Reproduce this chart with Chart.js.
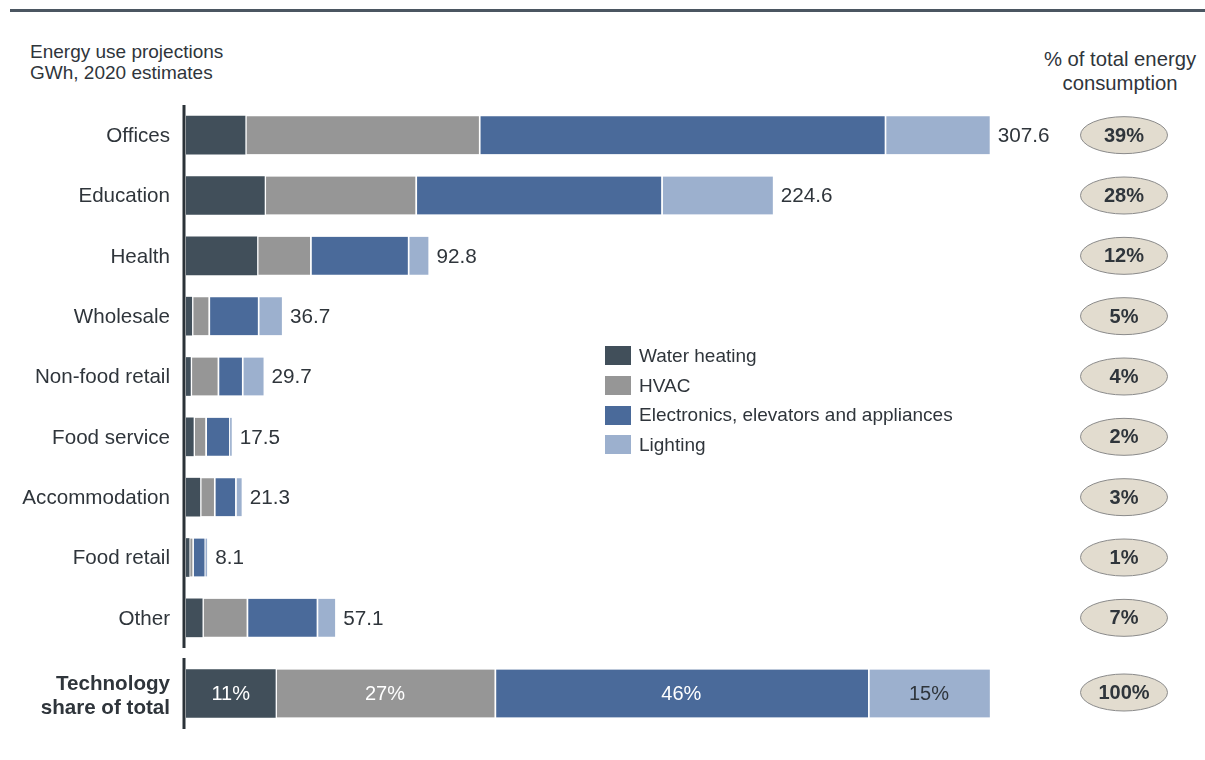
<!DOCTYPE html>
<html>
<head>
<meta charset="utf-8">
<title>Energy use projections</title>
<script src="https://cdn.jsdelivr.net/npm/chart.js@4.4.1/dist/chart.umd.min.js"></script>
<style>
  body { margin: 0; background: #fff; font-family: "Liberation Sans", Arial, sans-serif; color: #2f353b; }
  #page { position: relative; width: 1205px; height: 760px; overflow: hidden; }
  .rule { position: absolute; left: 10px; top: 9px; width: 1195px; height: 3px; background: #4b5661; }
  .title { position: absolute; left: 30px; top: 41px; font-size: 19px; line-height: 21px; }
  .right-head { position: absolute; left: 1020px; top: 47px; width: 200px; text-align: center; font-size: 20.3px; line-height: 24px; }
  #legend { position: absolute; left: 605px; top: 341px; }
  .leg-row { display: flex; align-items: center; height: 29.7px; font-size: 19px; }
  .leg-box { width: 26px; height: 19px; margin-right: 8px; }
  canvas { position: absolute; left: 0; }
</style>
</head>
<body>
<div id="page">
  <div class="rule"></div>
  <div class="title">Energy use projections<br>GWh, 2020 estimates</div>
  <div class="right-head">% of total energy<br>consumption</div>
  <canvas id="sectorChart" width="1205" height="543" style="top:105px"></canvas>
  <canvas id="shareChart" width="1205" height="71" style="top:658px"></canvas>
  <div id="legend"></div>
</div>

<script>
// Building sectors, GWh by end use
const sectors = ['Offices', 'Education', 'Health', 'Wholesale', 'Non-food retail',
  'Food service', 'Accommodation', 'Food retail', 'Other'];
const waterHeating = [22.6, 30.0, 27.1, 2.2, 1.7, 2.8, 5.3, 1.2, 6.2];
const hvac         = [89.5, 57.8, 20.4, 6.4, 10.4, 4.6, 5.4, 1.2, 17.0];
const electronics  = [155.3, 94.1, 37.4, 18.9, 9.3, 9.1, 8.1, 4.7, 26.8];
const lighting     = [40.2, 42.7, 7.9, 9.2, 8.3, 1.0, 2.5, 1.0, 7.1];

// Share of total energy consumption per sector (%)
const sharePct = [39, 28, 12, 5, 4, 2, 3, 1, 7];
const shareTotal = 100;

// Technology share of total (%)
const techLabel = ['Technology', 'share of total'];
const techShare = [11, 27, 46, 15];

const seriesNames = ['Water heating', 'HVAC', 'Electronics, elevators and appliances', 'Lighting'];
const colors = ['#414f5a', '#969696', '#4a6a9a', '#9cb0ce'];
const textColor = '#2f353b';
const axisColor = '#2b3238';
const font = '"Liberation Sans", Arial, sans-serif';

const gwhMax = 390;
const pctMax = 125.5;

function segmentStyle(i) {
  // white hairline between stacked pieces
  return {
    backgroundColor: colors[i],
    borderColor: '#ffffff',
    borderWidth: i === 0 ? 0 : { left: 2, right: 0, top: 0, bottom: 0 },
    borderSkipped: false
  };
}

function drawBadge(ctx, x, y, text) {
  ctx.beginPath();
  ctx.ellipse(x, y, 43.5, 18.5, 0, 0, Math.PI * 2);
  ctx.fillStyle = '#e2dccf';
  ctx.fill();
  ctx.lineWidth = 1;
  ctx.strokeStyle = '#8a8a8a';
  ctx.stroke();
  ctx.fillStyle = textColor;
  ctx.font = 'bold 20px ' + font;
  ctx.textAlign = 'center';
  ctx.textBaseline = 'middle';
  ctx.fillText(text, x, y + 1);
}

function stackTotal(i) {
  return waterHeating[i] + hvac[i] + electronics[i] + lighting[i];
}

// totals, share badges and the axis rule for the sector rows
const sectorExtras = {
  id: 'sectorExtras',
  afterDatasetsDraw(chart) {
    const ctx = chart.ctx;
    const area = chart.chartArea;
    ctx.save();
    ctx.fillStyle = axisColor;
    ctx.fillRect(area.left - 3.5, area.top - 1, 3, area.bottom - area.top + 1);
    const last = chart.getDatasetMeta(chart.data.datasets.length - 1);
    last.data.forEach((bar, i) => {
      ctx.font = '20.7px ' + font;
      ctx.fillStyle = textColor;
      ctx.textAlign = 'left';
      ctx.textBaseline = 'middle';
      ctx.fillText(stackTotal(i).toFixed(1), bar.x + 8, bar.y + 1);
      drawBadge(ctx, 1124, bar.y, sharePct[i] + '%');
    });
    ctx.restore();
  }
};

// percentages inside the technology bar
const shareExtras = {
  id: 'shareExtras',
  afterDatasetsDraw(chart) {
    const ctx = chart.ctx;
    const area = chart.chartArea;
    ctx.save();
    ctx.fillStyle = axisColor;
    ctx.fillRect(area.left - 3.5, area.top, 3, area.bottom - area.top);
    chart.data.datasets.forEach((ds, d) => {
      const bar = chart.getDatasetMeta(d).data[0];
      ctx.font = '20px ' + font;
      ctx.fillStyle = d === 3 ? textColor : '#ffffff';
      ctx.textAlign = 'center';
      ctx.textBaseline = 'middle';
      ctx.fillText(techShare[d] + '%', (bar.base + bar.x) / 2, bar.y + 1);
    });
    drawBadge(ctx, 1124, chart.getDatasetMeta(0).data[0].y - 1, shareTotal + '%');
    ctx.restore();
  }
};

const yAxisBase = {
  stacked: true,
  grid: { display: false, drawTicks: false },
  border: { display: false },
  afterFit(scale) {
    // fixed gutter for the labels, rows use the full height
    scale.width = 186;
    scale.paddingTop = 0;
    scale.paddingBottom = 0;
  }
};

new Chart(document.getElementById('sectorChart'), {
  type: 'bar',
  data: {
    labels: sectors,
    datasets: [waterHeating, hvac, electronics, lighting].map((values, i) => ({
      label: seriesNames[i],
      data: values,
      barThickness: 38,
      ...segmentStyle(i)
    }))
  },
  options: {
    indexAxis: 'y',
    responsive: false,
    animation: false,
    devicePixelRatio: 1,
    layout: { padding: 0 },
    plugins: { legend: { display: false }, tooltip: { enabled: false } },
    scales: {
      x: { stacked: true, min: 0, max: gwhMax, display: false },
      y: { ...yAxisBase, ticks: { color: textColor, padding: 16, labelOffset: 1, font: { size: 20.6, family: font } } }
    }
  },
  plugins: [sectorExtras]
});

new Chart(document.getElementById('shareChart'), {
  type: 'bar',
  data: {
    labels: [techLabel],
    datasets: techShare.map((v, i) => ({
      label: seriesNames[i],
      data: [v],
      barThickness: 48,
      ...segmentStyle(i)
    }))
  },
  options: {
    indexAxis: 'y',
    responsive: false,
    animation: false,
    devicePixelRatio: 1,
    layout: { padding: 0 },
    plugins: { legend: { display: false }, tooltip: { enabled: false } },
    scales: {
      x: { stacked: true, min: 0, max: pctMax, display: false },
      y: { ...yAxisBase, ticks: { color: textColor, padding: 16, labelOffset: 3, font: { size: 20.6, weight: 'bold', family: font, lineHeight: 1.17 } } }
    }
  },
  plugins: [shareExtras]
});

// Legend
const legend = document.getElementById('legend');
seriesNames.forEach((name, i) => {
  const row = document.createElement('div');
  row.className = 'leg-row';
  row.innerHTML = `<div class="leg-box" style="background:${colors[i]}"></div><span>${name}</span>`;
  legend.appendChild(row);
});
</script>
</body>
</html>
